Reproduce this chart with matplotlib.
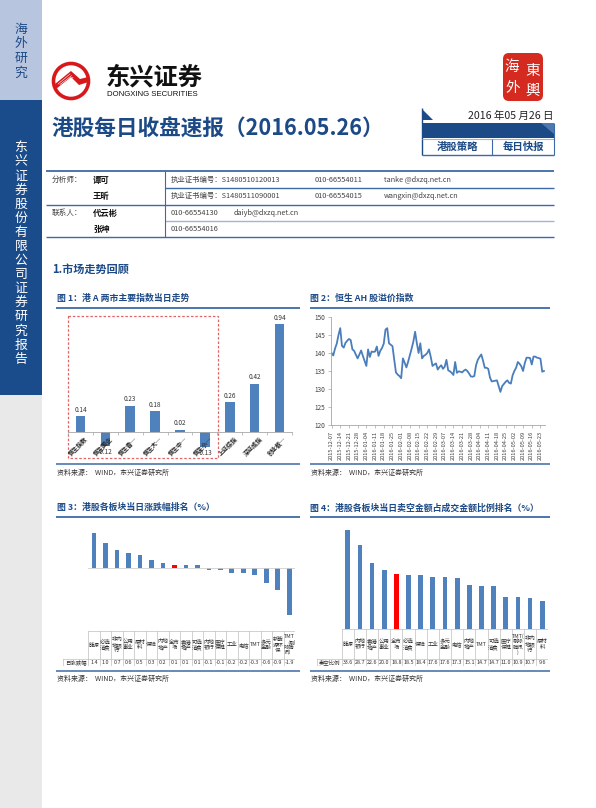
import numpy as np
import pandas as pd
import matplotlib
matplotlib.use("Agg")
import matplotlib.pyplot as plt
from matplotlib.patches import Rectangle, Polygon, Circle, FancyBboxPatch

plt.rcParams['font.family'] = ['Noto Sans CJK SC', 'DejaVu Sans']

W, H = 596, 808
BAR = '#4f81bd'
RED = '#ff0000'
NAVY = '#1c4a87'
LINE = '#3d6aa6'
GRID = '#bfbfbf'

# ---------- data ----------
idx_names = ["恒生指数", "恒生国企", "恒生香…", "恒生大…", "恒生中…", "恒生小…",
             "上证综指", "深证成指", "创业板…"]
idx_chg = [0.14, -0.12, 0.23, 0.18, 0.02, -0.13, 0.26, 0.42, 0.94]

ah_start, ah_end = "2015-12-07", "2016-05-26"
ah_values = [
    140.0, 139.3, 141.2, 142.6, 145.0, 146.9, 142.0, 141.5, 142.8, 143.4,
    143.9, 143.6, 141.0, 140.6, 139.5, 138.5, 139.6, 140.7, 139.2, 137.8,
    136.4, 141.0, 138.9, 140.4, 140.3, 140.4, 141.8, 139.2, 140.6, 141.4,
    142.6, 146.5, 146.9, 142.7, 142.3, 141.9, 138.2, 134.6, 134.0, 133.6,
    133.0, 138.5, 137.3, 136.0, 137.6, 139.4, 141.2, 143.2, 145.9, 142.7,
    140.0, 142.7, 138.5, 139.2, 139.5, 140.0, 141.0, 138.9, 136.4, 136.8,
    137.1, 135.4, 136.1, 136.6, 135.6, 136.2, 138.1, 135.2, 134.9, 134.5,
    133.9, 137.5, 134.5, 134.9, 134.8, 134.6, 135.1, 135.4, 135.0, 134.3,
    133.5, 133.4, 133.6, 136.6, 138.1, 138.9, 139.6, 137.9, 135.9, 135.9,
    135.6, 133.2, 132.1, 132.2, 132.3, 132.4, 130.8, 129.2, 130.8, 131.4,
    132.0, 132.4, 131.7, 131.5, 133.8, 135.0, 135.9, 137.5, 137.0, 136.3,
    135.0, 137.2, 138.7, 138.7, 138.6, 136.8, 139.0, 139.0, 138.7, 138.6,
    138.4, 134.8, 135.0,
]

sec_names = ["能源", "必选消费", "非内地银行", "公用事业", "原材料", "保险", "内地地产",
             "全市场", "香港地产", "可选消费", "内地银行", "医疗保健", "工业", "电信",
             "TMT", "多元金融", "新能源环保", "TMT（剔除腾讯）"]
sec_chg = [1.4, 1.0, 0.7, 0.6, 0.5, 0.3, 0.2, 0.1, 0.1, 0.1, -0.1, -0.1, -0.2, -0.2,
           -0.3, -0.6, -0.9, -1.9]

short_names = ["能源", "内地银行", "香港地产", "公用事业", "全市场", "必选消费", "保险",
               "工业", "多元金融", "电信", "内地地产", "TMT", "可选消费", "医疗保健",
               "TMT(剔除腾讯)", "非内地银行", "原材料"]
short_ratio = [33.6, 28.7, 22.6, 20.0, 18.8, 18.5, 18.4, 17.6, 17.6, 17.3, 15.1, 14.7,
               14.7, 11.0, 10.9, 10.7, 9.6]


def box(x0, y0, x1, y1):
    return [x0 / W, 1 - y1 / H, (x1 - x0) / W, (y1 - y0) / H]


def wrap2(s):
    # break a label into lines about two CJK characters wide
    lines, cur, w = [], "", 0.0
    for ch in s:
        cw = 0.5 if ord(ch) < 128 else 1.0
        if w + cw > 2.0 and cur:
            lines.append(cur)
            cur, w = "", 0.0
        cur += ch
        w += cw
    if cur:
        lines.append(cur)
    return "\n".join(lines)


fig = plt.figure(figsize=(W / 100, H / 100), dpi=100)
page = fig.add_axes([0, 0, 1, 1])
page.set_xlim(0, W)
page.set_ylim(H, 0)
page.axis("off")


def hline(y, x0, x1, color=LINE, lw=1.0):
    page.plot([x0, x1], [y, y], color=color, lw=lw, solid_capstyle='butt')


def vline(x, y0, y1, color=LINE, lw=1.0):
    page.plot([x, x], [y0, y1], color=color, lw=lw, solid_capstyle='butt')


# ---------- sidebar ----------
page.add_patch(Rectangle((0, 0), 42, 100, color='#b8c5df', lw=0))
page.add_patch(Rectangle((0, 100), 42, 295, color='#1a4c8b', lw=0))
page.add_patch(Rectangle((0, 395), 42, 413, color='#e9e9e9', lw=0))
for i, ch in enumerate("海外研究"):
    page.text(21, 29 + i * 14.7, ch, fontsize=9.3, color=NAVY, ha='center', va='center')
for i, ch in enumerate("东兴证券股份有限公司证券研究报告"):
    page.text(21, 148 + i * 14.07, ch, fontsize=9.3, color='white', ha='center', va='center')

# ---------- logo ----------
page.add_patch(Circle((71, 81), 17.5, fill=False, edgecolor='#d7191c', lw=2.6))
page.add_patch(Polygon([(55, 84), (71, 71), (80, 79), (88, 77), (88.5, 82), (79, 85),
                        (71, 77), (56, 89)], closed=True, color='#d7191c', lw=0))
for k in range(3):
    page.plot([58 + k * 2, 70 + k * 1.5], [84 + k * 0.5, 74 + k * 1.7], color='white', lw=0.4)
page.text(106, 77, "东兴证券", fontsize=17.5, fontweight='bold', color='#111111',
          ha='left', va='center')
page.text(107, 94, "DONGXING SECURITIES", fontsize=5.6, color='#111111', ha='left',
          va='center', family='Liberation Sans')

# seal
page.add_patch(FancyBboxPatch((503, 53), 40, 48, boxstyle="round,pad=0,rounding_size=6",
                              color='#d42a20', lw=0))
for ch, (x, y) in zip("海東外輿", [(512, 67), (533, 71), (513, 88), (533, 91)]):
    page.text(x, y, ch, fontsize=10.5, color='white', ha='center', va='center')

# ---------- title ----------
page.text(51.5, 129, "港股每日收盘速报（2016.05.26）", fontsize=15.6, fontweight='bold',
          color=NAVY, ha='left', va='center')

# date box
vline(422, 108, 155, color=NAVY, lw=1.0)
page.add_patch(Polygon([(423, 110), (423, 120), (433, 120)], closed=True, color=NAVY, lw=0))
page.text(553, 116, "2016 年05 月26 日", fontsize=7.6, color='#222222', ha='right', va='center')
page.add_patch(Rectangle((422, 123), 132, 15, color=NAVY, lw=0))
page.add_patch(Polygon([(541, 123), (554, 123), (554, 134)], closed=True, color='#4d79b0', lw=0))
hline(139, 422, 554, color='#9fb6d6', lw=0.8)
hline(154.5, 422, 554, color=LINE, lw=1.0)
vline(554, 123, 155, color=LINE, lw=0.8)
vline(492, 139, 155, color=LINE, lw=0.8)
page.text(457, 147, "港股策略", fontsize=7.5, fontweight='bold', color=NAVY, ha='center', va='center')
page.text(523, 147, "每日快报", fontsize=7.5, fontweight='bold', color=NAVY, ha='center', va='center')

# ---------- contact table ----------
hline(170.7, 46, 554, lw=1.3)
hline(187.7, 165, 554, lw=1.0)
hline(205, 46, 554, lw=1.0)
hline(220.7, 165, 554, color='#9fb6d6', lw=1.0)
hline(237.3, 46, 554, lw=1.0)
vline(165, 171, 237.3, lw=0.8)
page.text(51.5, 180, "分析师：", fontsize=5.5, color='#444444', va='center')
page.text(51.5, 213, "联系人：", fontsize=5.5, color='#444444', va='center')
for name, y in [("谭可", 180), ("王昕", 196), ("代云彬", 213), ("张坤", 229)]:
    page.text(93, y, name, fontsize=6, fontweight='bold', color='#111111', va='center')
rows = [
    (180, [(171, "执业证书编号：S1480510120013"), (315, "010-66554011"), (384, "tanke @dxzq.net.cn")]),
    (196, [(171, "执业证书编号：S1480511090001"), (315, "010-66554015"), (384, "wangxin@dxzq.net.cn")]),
    (213, [(171, "010-66554130"), (234, "daiyb@dxzq.net.cn")]),
    (229, [(171, "010-66554016")]),
]
for y, items in rows:
    for x, s in items:
        page.text(x, y, s, fontsize=5.3, color='#444444', va='center')

page.text(52, 269, "1.市场走势回顾", fontsize=8, fontweight='bold', color=NAVY, va='center')

# ---------- figure headings / frames ----------
heads = [(57, 298.3, 56, 300, "图 1：港 A 两市主要指数当日走势"),
         (310, 298.3, 310, 550, "图 2：恒生 AH 股溢价指数"),
         (57, 507.7, 56, 300, "图 3：港股各板块当日涨跌幅排名（%）"),
         (310, 507.7, 310, 550, "图 4：港股各板块当日卖空金额占成交金额比例排名（%）")]
for tx, ty, lx0, lx1, s in heads:
    page.text(tx, ty, s, fontsize=6.4, fontweight='bold', color=NAVY, va='center')
    hline(ty + 9.5, lx0, lx1, lw=1.3)
for y, sy in [(464, 473), (670.7, 679)]:
    for lx0, lx1 in [(56, 300), (310, 550)]:
        hline(y, lx0, lx1, lw=1.1)
        page.text(lx0 + 1, sy, "资料来源：  WIND，东兴证券研究所", fontsize=5, color='#333333',
                  va='center', style='italic')

# ---------- figure 1 ----------
ax1 = fig.add_axes(box(68, 317, 292, 455))
ax1.set_facecolor('none')
x1 = np.arange(len(idx_names))
ax1.bar(x1, idx_chg, width=0.38, color=BAR)
ax1.set_xlim(-0.5, len(idx_names) - 0.5)
ax1.set_ylim(-0.2, 1.0)
for s in ['top', 'right', 'left']:
    ax1.spines[s].set_visible(False)
ax1.spines['bottom'].set_position(('data', 0))
ax1.spines['bottom'].set_color('#a6a6a6')
ax1.spines['bottom'].set_linewidth(0.6)
ax1.set_yticks([])
ax1.set_xticks(np.arange(-0.5, len(idx_names), 1))
ax1.set_xticklabels([])
ax1.tick_params(axis='x', length=2, width=0.5, color='#a6a6a6')
for i, v in enumerate(idx_chg):
    if v >= 0:
        ax1.text(i, v + 0.02, f"{v:.2f}", fontsize=4.6, ha='center', va='bottom', color='#333333')
    else:
        ax1.text(i, v - 0.015, f"{v:.2f}", fontsize=4.6, ha='center', va='top', color='#333333')
    ax1.text(i + 0.15, -0.025, idx_names[i], fontsize=4.3, rotation=45, ha='right', va='top',
             rotation_mode='anchor', color='#222222', fontweight='bold')
page.add_patch(Rectangle((68, 316), 150, 142, fill=False, edgecolor='#e06666', lw=0.9,
                         ls=(0, (2, 1.5))))

# ---------- figure 2 ----------
ax2 = fig.add_axes(box(331, 317, 545, 425))
ax2.set_facecolor('none')
dates = pd.bdate_range(ah_start, ah_end)
pos = np.arange(len(ah_values))
ax2.plot(pos, ah_values, color='#4a7ebb', lw=1.3)
ax2.set_xlim(-0.3, 122.6)
ax2.set_ylim(120, 150)
ax2.set_yticks(np.arange(120, 151, 5))
ax2.set_xticks(pos[::5])
ax2.set_xticklabels([d.strftime('%Y-%m-%d') for d in dates[:len(pos)][::5]], rotation=90)
ax2.tick_params(axis='y', labelsize=4.6, length=2, width=0.5, color='#a6a6a6',
                labelcolor='#404040', pad=2)
ax2.tick_params(axis='x', labelsize=4.1, length=2, width=0.5, color='#a6a6a6',
                labelcolor='#404040', pad=2)
for s in ['top', 'right']:
    ax2.spines[s].set_visible(False)
for s in ['left', 'bottom']:
    ax2.spines[s].set_color('#a6a6a6')
    ax2.spines[s].set_linewidth(0.6)


# ---------- figures 3 and 4: bars + data tables ----------
def table(names, vals, xl, xr, hdr_w, top, mid, bot, hdr):
    n = len(names)
    cw = (xr - xl) / n
    lo = -0.5 - hdr_w / cw
    axt = fig.add_axes(box(xl - hdr_w, top, xr, bot))
    axt.set_xlim(lo, n - 0.5)
    axt.set_ylim(bot, top)
    axt.axis('off')
    kw = dict(color=GRID, lw=0.5)
    axt.plot([-0.5, n - 0.5], [top, top], **kw)
    axt.plot([lo, n - 0.5], [mid, mid], **kw)
    axt.plot([lo, n - 0.5], [bot, bot], **kw)
    axt.plot([lo, lo], [mid, bot], **kw)
    for k in range(n + 1):
        axt.plot([k - 0.5, k - 0.5], [top, bot], **kw)
    for i, (nm, v) in enumerate(zip(names, vals)):
        axt.text(i, (top + mid) / 2, wrap2(nm), fontsize=3.9, ha='center', va='center',
                 color='#333333', linespacing=1.1)
        axt.text(i, (mid + bot) / 2, f"{v:.1f}", fontsize=3.9, ha='center', va='center',
                 color='#333333')
    axt.text((lo - 0.5) / 2, (mid + bot) / 2, hdr, fontsize=3.9, ha='center', va='center',
             color='#333333')


# figure 3
ax3 = fig.add_axes(box(88.3, 523, 295, 622.3))
ax3.set_facecolor('none')
x3 = np.arange(len(sec_names))
ax3.bar(x3, sec_chg, width=0.41, color=[RED if nm == "全市场" else BAR for nm in sec_names])
ax3.set_xlim(-0.5, len(sec_names) - 0.5)
ax3.set_ylim(-2.2, 1.8)
ax3.axhline(0, color='#d0d0d0', lw=0.6)
ax3.axis('off')
table(sec_names, sec_chg, 88.3, 295, 25.3, 631, 659, 665.7, "日涨跌幅")

# figure 4
ax4 = fig.add_axes(box(341.7, 523, 548.3, 629.3))
ax4.set_facecolor('none')
x4 = np.arange(len(short_names))
ax4.bar(x4, short_ratio, width=0.39, color=[RED if nm == "全市场" else BAR for nm in short_names])
ax4.set_xlim(-0.5, len(short_names) - 0.5)
ax4.set_ylim(0, 36)
ax4.axis('off')
table(short_names, short_ratio, 341.7, 548.3, 24.7, 629.3, 659.3, 665.7, "卖空比例")

fig.savefig("out.png", dpi=100, facecolor='white')
